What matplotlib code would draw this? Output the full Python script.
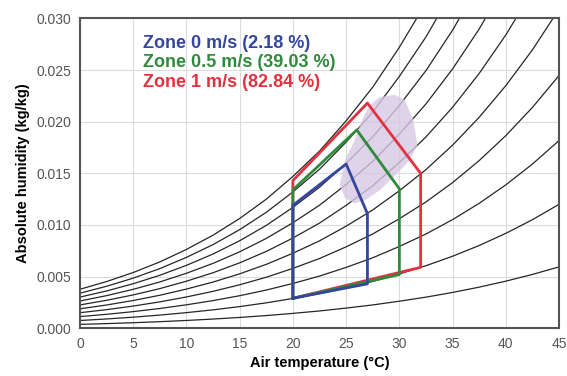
import numpy as np
import matplotlib
matplotlib.use("Agg")
from matplotlib import pyplot as plt

plt.rcParams['font.family'] = ['Liberation Sans', 'DejaVu Sans']

# saturation vapour pressure table (Pa)
temps = [0, 2.5, 5, 7.5, 10, 12.5, 15, 17.5, 20, 22.5, 25, 27.5, 30, 32.5, 35, 37.5, 40, 42.5, 45]
p_sat = [611.2, 731.0, 871.6, 1035.5, 1228.2, 1446.9, 1702.0, 1995.9, 2339.2, 2720.0, 3169.7,
         3665.3, 4246.7, 4884.6, 5617.0, 6444.0, 7375.0, 8419.0, 9590.0]
rh_levels = [0.1, 0.2, 0.3, 0.4, 0.5, 0.6, 0.7, 0.8, 0.9, 1.0]
p_atm = 101325.0

# comfort zones (temperature, humidity)
zone0_t = [20, 27, 27, 25, 20, 20]
zone0_w = [0.0029, 0.0043, 0.0111, 0.0159, 0.0119, 0.0029]
zone05_t = [20, 30, 30, 26, 20, 20]
zone05_w = [0.0029, 0.0052, 0.0135, 0.0192, 0.0134, 0.0029]
zone1_t = [20, 32, 32, 27, 20, 20]
zone1_w = [0.0029, 0.0059, 0.0150, 0.0218, 0.0143, 0.0029]

# measured points cloud outline
cloud_t = [24.4, 24.9, 25.8, 26.5, 27.2, 28.2, 29.6, 30.5, 31.3, 31.7, 31.0, 29.6, 28.2, 26.8, 25.8, 24.9]
cloud_w = [0.0139, 0.0163, 0.0182, 0.0202, 0.0216, 0.0224, 0.0226, 0.0221, 0.0202, 0.0177, 0.0163,
           0.0148, 0.0134, 0.0124, 0.0121, 0.0126]

labels = ['Zone 0 m/s (2.18 %)', 'Zone 0.5 m/s (39.03 %)', 'Zone 1 m/s (82.84 %)']
colors = ['#34469e', '#2f8a3c', '#e2323f']

fig = plt.figure(figsize=(5.67, 3.76), dpi=100)
ax = fig.add_axes([0.141, 0.127, 0.845, 0.824])

t = np.array(temps)
ps = np.array(p_sat)
for rh in rh_levels:
    w = 0.622 * rh * ps / (p_atm - rh * ps)
    ax.plot(t, w, c='#262626', lw=0.9, zorder=2)

ax.fill(cloud_t, cloud_w, color='#d6c8e4', alpha=0.8, lw=0, zorder=3)

ax.plot(zone1_t, zone1_w, c=colors[2], lw=2, zorder=4)
ax.plot(zone05_t, zone05_w, c=colors[1], lw=2, zorder=5)
ax.plot(zone0_t, zone0_w, c=colors[0], lw=2, zorder=6)

for i, (lab, col) in enumerate(zip(labels, colors)):
    ax.text(5.9, 0.0276 - i * 0.0019, lab, color=col, fontsize=13, fontweight='bold',
            va='center', ha='left', zorder=7)

ax.set_xlim(0, 45)
ax.set_ylim(0, 0.030)
ax.set_xticks(range(0, 46, 5))
ax.set_yticks(np.arange(0, 0.0301, 0.005))
ax.set_yticklabels(['%.3f' % v for v in np.arange(0, 0.0301, 0.005)])
ax.grid(True, color='#dcdcdc', lw=0.8, zorder=0)
ax.set_axisbelow(True)
ax.tick_params(length=0, pad=6, labelsize=10, labelcolor='#555555')
for s in ax.spines.values():
    s.set_color('#555555')
    s.set_linewidth(1.5)
ax.set_xlabel('Air temperature (°C)', fontsize=10.5, fontweight='bold', labelpad=4)
ax.set_ylabel('Absolute humidity (kg/kg)', fontsize=10.5, fontweight='bold', labelpad=5)

fig.savefig('out.png', dpi=100)
